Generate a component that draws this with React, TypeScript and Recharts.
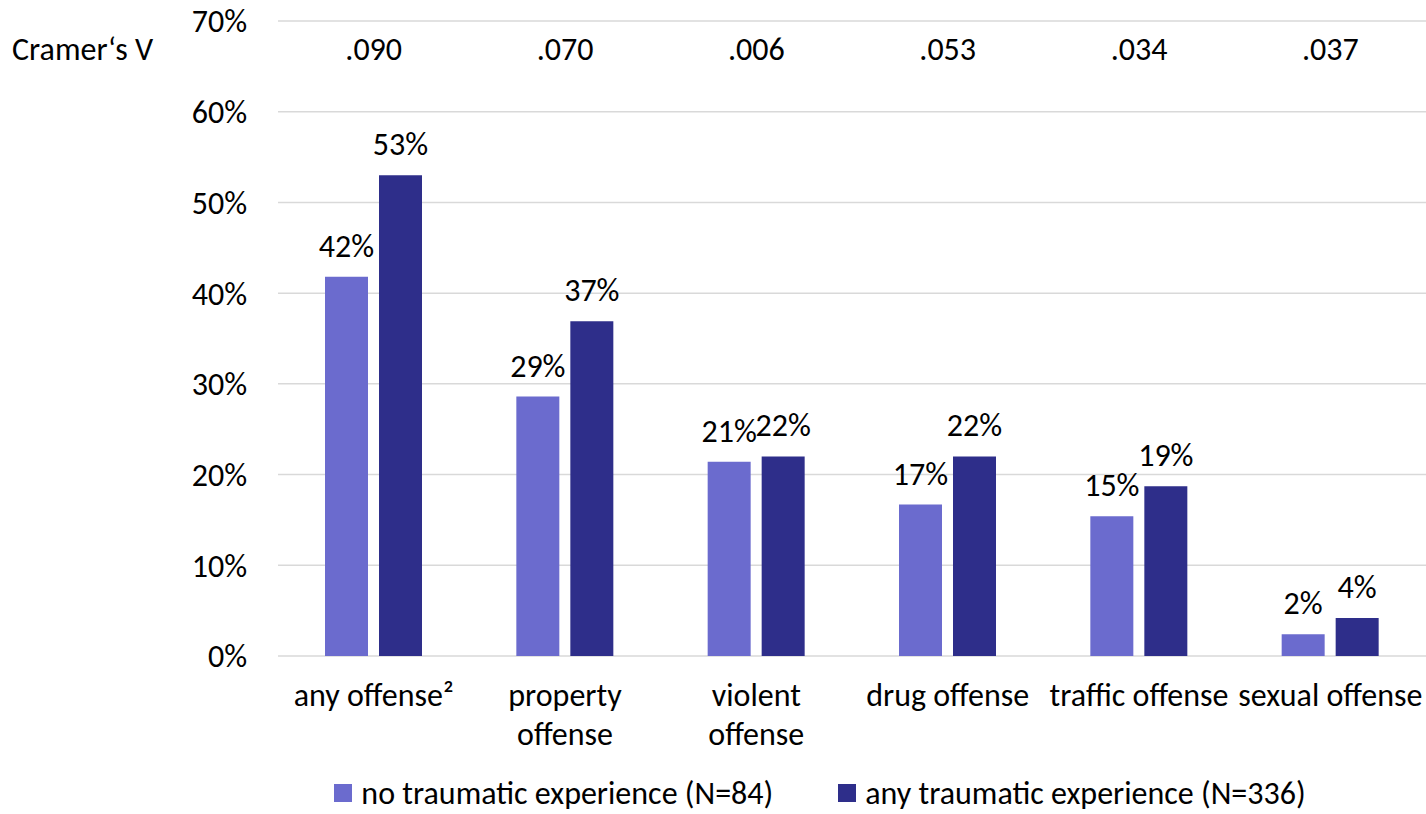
import React from 'react'
import { BarChart, Bar, XAxis, YAxis, CartesianGrid, LabelList, Legend } from 'recharts'

// category labels, one entry per line
const categories = [
  ['any offense²'],
  ['property', 'offense'],
  ['violent', 'offense'],
  ['drug offense'],
  ['traffic offense'],
  ['sexual offense'],
]
const cramersV = ['.090', '.070', '.006', '.053', '.034', '.037']
const noTrauma = [41.8, 28.6, 21.4, 16.7, 15.4, 2.4]
const anyTrauma = [53.0, 36.9, 22.0, 22.0, 18.7, 4.2]
const yTicks = [0, 10, 20, 30, 40, 50, 60, 70]

const SERIES = [
  { key: 'none', label: 'no traumatic experience (N=84)', color: '#6B6BCE' },
  { key: 'any', label: 'any traumatic experience (N=336)', color: '#2E2E8A' },
]

const FONT = 'Carlito, Calibri, Lato, sans-serif'
const FS = 32

const data = categories.map((lines, i) => ({
  name: lines.join(' '),
  cv: cramersV[i],
  none: noTrauma[i],
  any: anyTrauma[i],
}))

function CategoryTick(props: any) {
  const { x, y, index } = props
  const lines = categories[index] ?? []
  return (
    <text x={x} y={y} textAnchor="middle" fontFamily={FONT} fontSize={FS} fill="#000">
      {lines.map((line, i) => (
        <tspan key={i} x={x} dy={i === 0 ? 42 : 39}>
          {line}
        </tspan>
      ))}
    </text>
  )
}

function CramerTick(props: any) {
  const { x, payload } = props
  return (
    <text x={x} y={60} textAnchor="middle" fontFamily={FONT} fontSize={FS} fill="#000">
      {payload.value}
    </text>
  )
}

function CramerLabel() {
  return (
    <text x={12} y={60} fontFamily={FONT} fontSize={FS} fill="#000">
      Cramer‘s V
    </text>
  )
}

function LegendContent() {
  return (
    <div
      style={{
        display: 'flex',
        justifyContent: 'center',
        alignItems: 'center',
        paddingLeft: 214,
        height: 50,
        paddingTop: 8,
        boxSizing: 'border-box',
        fontFamily: FONT,
        fontSize: FS,
        color: '#000',
      }}
    >
      {SERIES.map((s, i) => (
        <div key={s.key} style={{ display: 'flex', alignItems: 'center', marginLeft: i ? 65 : 0 }}>
          <span style={{ width: 18, height: 18, background: s.color, marginRight: 9, display: 'inline-block' }} />
          <span>{s.label}</span>
        </div>
      ))}
    </div>
  )
}

export default function App() {
  return (
    <div style={{ position: 'absolute', left: 0, top: 0, width: 1426, height: 814, background: '#fff' }}>
      <BarChart
        width={1426}
        height={814}
        data={data}
        margin={{ top: 20, right: 0, left: 0, bottom: 0 }}
        barSize={43}
        barGap={11}
      >
        <CartesianGrid vertical={false} stroke="#D9D9D9" strokeWidth={1.5} />
        <XAxis
          dataKey="name"
          height={108}
          axisLine={false}
          tickLine={false}
          interval={0}
          tick={<CategoryTick />}
        />
        <XAxis
          xAxisId="cv"
          dataKey="cv"
          orientation="top"
          height={1}
          tickSize={0}
          tickMargin={0}
          axisLine={false}
          tickLine={false}
          interval={0}
          tick={<CramerTick />}
          label={<CramerLabel />}
        />
        <YAxis
          width={278}
          domain={[0, 70]}
          ticks={yTicks}
          interval={0}
          axisLine={false}
          tickLine={false}
          tickMargin={25}
          tickFormatter={(v: number) => `${v}%`}
          tick={{ fill: '#000', fontSize: FS, fontFamily: FONT }}
        />
        <Legend verticalAlign="bottom" height={50} content={<LegendContent />} />
        {SERIES.map((s) => (
          <Bar key={s.key} dataKey={s.key} fill={s.color} isAnimationActive={false}>
            <LabelList
              dataKey={s.key}
              position="top"
              offset={20}
              formatter={(v: any) => `${Math.round(Number(v))}%`}
              style={{ fill: '#000', fontSize: FS, fontFamily: FONT }}
            />
          </Bar>
        ))}
      </BarChart>
    </div>
  )
}
